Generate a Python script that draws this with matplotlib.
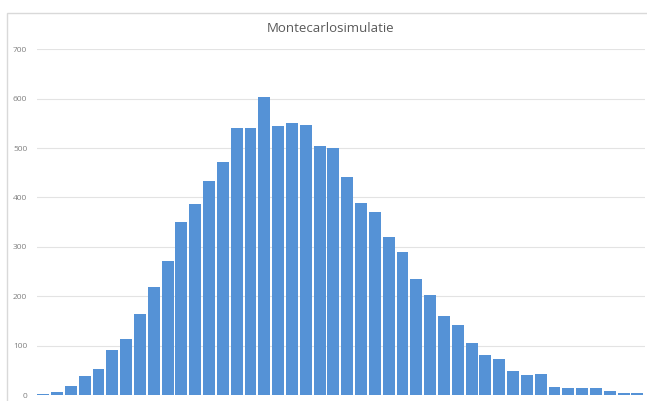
import numpy as np
import matplotlib
matplotlib.use('Agg')
import matplotlib.pyplot as plt
from matplotlib.patches import Rectangle

# bin counts of the simulation
counts = [3, 7, 19, 38, 52, 92, 114, 165, 219, 272, 350, 387, 434, 472,
          540, 541, 603, 544, 550, 546, 505, 501, 442, 389, 371, 320, 289,
          235, 202, 160, 142, 106, 81, 72, 48, 40, 42, 16, 15, 15, 14, 9, 4, 4]
yticks = [0, 100, 200, 300, 400, 500, 600, 700]
title = 'Montecarlosimulatie'

W, H = 647, 401
fig = plt.figure(figsize=(W / 100, H / 100), dpi=100)

# light frame around the chart area
fig.patches.append(Rectangle((7 / W, -0.1), 1.1, (H - 13) / H + 0.1,
                             transform=fig.transFigure, fill=False,
                             edgecolor='#d9d9d9', lw=1.0))

ax = fig.add_axes([37 / W, 1 - 395 / H, (645 - 37) / W, (395 - 49.3) / H])
x = np.arange(len(counts))
ax.bar(x, counts, width=0.86, color='#5592d6', edgecolor='none', zorder=3)

ax.set_ylim(0, 700)
ax.set_xlim(-0.45, len(counts) - 0.45)
ax.set_yticks(yticks)
ax.set_yticklabels([str(t) for t in yticks], fontsize=6, color='#808080',
                   family=['Open Sans', 'DejaVu Sans'])
ax.tick_params(axis='y', length=0, pad=7)
ax.set_xticks([])
ax.grid(axis='y', color='#e3e3e3', lw=0.8, zorder=0)
for s in ax.spines.values():
    s.set_visible(False)

fig.text(331 / W, 1 - 29 / H, title, ha='center', va='center', fontsize=9.5,
         color='#595959', family=['Open Sans', 'DejaVu Sans'])

fig.savefig('out.png', dpi=100)
